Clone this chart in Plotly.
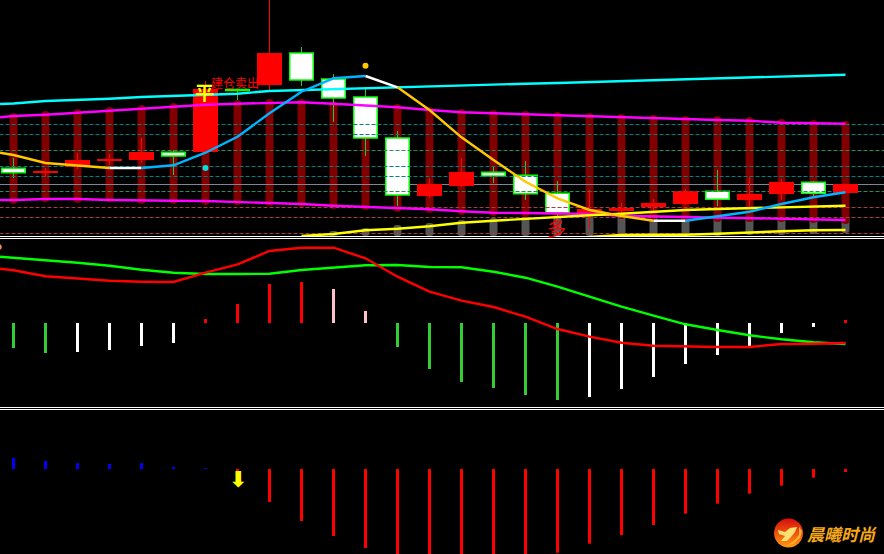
import plotly.graph_objects as go

# ---- data ----
idx = list(range(27))
lead_x = -0.42
open_ = [67.7,63.5,69.3,75,76,83.7,84,146.5,151,183,157,139,98,40,50,63.7,60.7,42.7,23,25,29,32,44.7,36,42,53.7,43]
close = [63.3,64.5,76,77,84,80,147,145.5,183,156,138,98,41,52,64,60,42.3,23,27,28,33,44.7,36.7,42,54,42.7,52]
high = [78,68,83,82,98,86,155,147,236,189,162,148,105,58,78,70,75,55,46,33,37,47,66,59,57,55,52]
low = [58,59,67,71,73,61,84,136,144,150,114,80,30,38,49,53,36,20,7,22,25,31,30,30,36,38,43]
band_top = [123,125,127,129,131,133,135,136,137,137,135,132,132,129,127,126,125,124,123,122,121,120,120,119,117,116,115]
band_bottom = [32,34,33,34,32,32,31,31,30,29,27,26,24,23,21,20,19,18,18,17,16,15,14,14,14,13,12]
gray_idx = list(range(10,27))
gray_top = [5,8,11,13,16,18,19,20,20,20,20,20,20,20,20,20,20]
gray_bottom = [0,0,0,0,0,0,0,0,0,0,0,0,0,1,1,2,3]
cyan_line = [132,132.5,135,136,137.3,139,140,141.7,142.3,145,146,146.7,148,148.7,150,151,152,152.3,153,154,155,156,157,158,159,160,161,161.3]
upper_env = [118.7,120,121.3,123.3,125.7,128,130,131.3,132.3,133.3,133.7,132.3,130.7,128.7,126,123.7,122.7,121.7,120.3,119.3,118.3,117.3,117,116,115.3,113.3,112.7,112.3]
lower_env = [36,36,37,37,36,36,35.3,35,34,33.3,32,30.3,29.3,27.7,26.7,24.7,23.3,23,22.3,22,20.3,19.7,19,18.3,17.7,17.3,16.3,16]
trend = [83.3,81,73,70.3,68,68,70.7,83.3,99.3,122.7,144.3,157.7,160,148.7,126,98.7,76,54.3,37.7,26,20,15.3,15.3,20,24.3,32,38.7,43.7]
yellow_a_idx = list(range(9,27))
yellow_a = [0,2,5.7,7.3,9.7,13.3,15.3,17.3,19,20.7,22.3,24.3,26,27,28,29,30,30.3]
yellow_b_idx = list(range(18,27))
yellow_b = [-1,1,1.3,1.3,2.3,3.7,4.7,5.7,6]
teal_levels = [111.5,101.5,69.5,59.5]
green_levels = [85.5,44.5]
brown_levels = [28.5,18.5,2.5]
slate_level = [51.5]

dif = [54.3,52.7,46.7,44.3,42.3,41.3,41,50.3,58.7,72,75.3,75.3,64.7,46.3,31.3,22.3,16,6.3,-6,-13.7,-19.7,-22.7,-23.7,-24,-24,-21,-20.7,-20]
dea = [66.3,65.3,62.3,60.3,57.3,53.3,50.3,49,49,49.3,53,55.7,57.7,58,56,55.7,51.3,45.3,36.3,26.3,16.3,7.3,-1.3,-7,-12.3,-16.3,-19.3,-21]
macd = [-25,-30,-29,-27,-23,-20,4,19,39,41,34,12,-24,-46,-59,-65,-72,-77,-74,-66,-54,-41,-32,-23,-10,-4,3]
momentum = [11,8,6,5,6,2,1,-3,-33,-52,-67,-79,-91,-96,-100,-98,-92,-83.7,-74.7,-66,-56,-44.7,-34.7,-24.7,-16.7,-8.7,-3]

PX_STEP = 32.0
PX_X0 = 13.5
W, H = 884, 554
LIME = '#00ff00'
RED = '#ff0000'
WICK_GREEN = '#22cc22'
LW = 2.4

def py(p):
    return 1 - p / H

fig = go.Figure()
xl = [lead_x] + idx
BW = 8 / PX_STEP

# layer 0: envelope columns, gray columns, slate level
fig.add_bar(x=gray_idx, base=gray_bottom, y=[t - b for t, b in zip(gray_top, gray_bottom)], width=BW,
            marker=dict(color='#555555', line_width=0, cornerradius=3), yaxis='y')
fig.add_bar(x=idx, base=band_bottom, y=[t - b for t, b in zip(band_top, band_bottom)], width=BW,
            marker=dict(color='#800000', line_width=0, cornerradius=4), yaxis='y')
fig.add_scatter(x=[-1, 28], y=slate_level * 2, mode='lines', line=dict(color='#778899', width=1), yaxis='y')

# layer 1: hollow-style candles, dashed levels
is_up = [c > o for o, c in zip(open_, close)]
dn = [i for i in idx if not is_up[i]]
up = [i for i in idx if is_up[i]]
fig.add_bar(x=dn, base=[low[i] for i in dn], y=[high[i] - low[i] for i in dn], width=1 / PX_STEP,
            marker=dict(color=WICK_GREEN, line_width=0), yaxis='y4')
fig.add_bar(x=dn, base=[close[i] for i in dn], y=[open_[i] - close[i] for i in dn], width=23.5 / PX_STEP,
            marker=dict(color='#ffffff', line=dict(color=LIME, width=1.5)), yaxis='y4')
for levels, col in ((teal_levels, '#008080'), (green_levels, '#2e8b57'), (brown_levels, '#a04040')):
    for lv in levels:
        fig.add_scatter(x=[-1, 28], y=[lv, lv], mode='lines', line=dict(color=col, width=1, dash='4px,2px'), yaxis='y4')

# layer 2: solid candles, lines
fig.add_bar(x=up, base=[low[i] for i in up], y=[high[i] - low[i] for i in up], width=1 / PX_STEP,
            marker=dict(color=RED, line_width=0), yaxis='y5')
fig.add_bar(x=up, base=[open_[i] for i in up], y=[close[i] - open_[i] for i in up], width=25 / PX_STEP,
            marker=dict(color=RED, line_width=0), yaxis='y5')
fig.add_scatter(x=xl, y=cyan_line, mode='lines', line=dict(color='#00ffff', width=LW), yaxis='y5')
fig.add_scatter(x=xl, y=upper_env, mode='lines', line=dict(color='#ff00ff', width=LW), yaxis='y5')
fig.add_scatter(x=xl, y=lower_env, mode='lines', line=dict(color='#ff00ff', width=LW), yaxis='y5')
fig.add_scatter(x=yellow_a_idx, y=yellow_a, mode='lines', line=dict(color='#ffff00', width=LW), yaxis='y5')
fig.add_scatter(x=yellow_b_idx, y=yellow_b, mode='lines', line=dict(color='#ffff00', width=LW), yaxis='y5')
# trend line coloured by run: gold falling, white turning, blue rising
runs = [(0, 4, '#ffc800'), (4, 5, '#ffffff'), (5, 12, '#00b4ff'), (12, 13, '#ffffff'),
        (13, 21, '#ffc800'), (21, 22, '#ffffff'), (22, 27, '#00b4ff')]
for a, b, col in runs:
    fig.add_scatter(x=xl[a:b + 1], y=trend[a:b + 1], mode='lines', line=dict(color=col, width=LW), yaxis='y5')
fig.add_scatter(x=[11], y=[170.3], mode='markers', marker=dict(color='#ffc800', size=6), yaxis='y5')
fig.add_scatter(x=[6], y=[68], mode='markers', marker=dict(color='#00e0e0', size=6), yaxis='y5')

# panel 2
def macd_color(i):
    prev = macd[i - 1] if i else 0
    if macd[i] >= 0:
        return RED if macd[i] >= prev else '#ffc0cb'
    return '#32cd32' if macd[i] <= prev else '#ffffff'
fig.add_bar(x=idx, y=macd, width=3 / PX_STEP, marker=dict(color=[macd_color(i) for i in idx], line_width=0), yaxis='y2')
fig.add_scatter(x=xl, y=dea, mode='lines', line=dict(color=LIME, width=LW), yaxis='y2')
fig.add_scatter(x=xl, y=dif, mode='lines', line=dict(color=RED, width=LW), yaxis='y2')
fig.add_scatter(x=[-0.46], y=[76], mode='markers', marker=dict(color='#ff8c40', size=6), yaxis='y2')

# panel 3
fig.add_bar(x=idx, y=momentum, width=3 / PX_STEP,
            marker=dict(color=['#0000ff' if v > 0 else RED for v in momentum], line_width=0), yaxis='y3')
fig.add_scatter(x=[24.22], y=[-64], mode='markers',
                marker=dict(color='#d80c0c', size=29, line_width=0, gradient=dict(type='vertical', color='#ff9a10')), yaxis='y3')

axis_off = dict(visible=False, fixedrange=True)
fig.update_layout(
    width=W, height=H, autosize=False,
    margin=dict(l=0, r=0, t=0, b=0, pad=0),
    paper_bgcolor='#000000', plot_bgcolor='#000000',
    showlegend=False, barmode='overlay',
    xaxis=dict(range=[-PX_X0 / PX_STEP, (W - PX_X0) / PX_STEP], **axis_off),
    yaxis=dict(domain=[py(236), 1], range=[0, 236], **axis_off),
    yaxis2=dict(domain=[py(407), py(239)], range=[-84, 84], **axis_off),
    yaxis3=dict(domain=[0, py(410)], range=[-85, 59], **axis_off),
    yaxis4=dict(overlaying='y', range=[0, 236], **axis_off),
    yaxis5=dict(overlaying='y', range=[0, 236], **axis_off),
)

for p in (236.5, 238.5, 407.5, 409.5):
    fig.add_shape(type='line', xref='paper', yref='paper', x0=0, x1=1, y0=py(p), y1=py(p),
                  line=dict(color='#ffffff', width=1))

# logo swoosh
def path(points):
    return 'M' + ' L'.join(f'{x / W:.5f} {py(y):.5f}' for x, y in points) + ' Z'
fig.add_shape(type='path', xref='paper', yref='paper', line_width=0, fillcolor='#ffe070',
              path=path([(778, 530), (785, 532), (790, 528), (797, 527), (795, 532), (791, 537), (787, 541), (781, 541), (785, 536), (779, 534)]))
fig.add_shape(type='path', xref='paper', yref='paper', line_width=0, fillcolor='#ffb030',
              path=path([(799, 527), (802, 531), (800, 538), (793, 544), (786, 546), (794, 541), (799, 535)]))

CJK = 'Noto Sans CJK SC'
def note(x, y, yref, text, size, color, **kw):
    fig.add_annotation(x=x, y=y, xref='x', yref=yref, text=text, showarrow=False,
                       font=dict(family=kw.pop('family', CJK), size=size, color=color, **kw),
                       xanchor='center', yanchor='middle')
note(5.97, 144.5, 'y', '平', 19, '#ffff00', weight='bold')
note(6.91, 154, 'y', '建仓卖出', 12, '#ff0000')
note(16.97, 9, 'y', '多', 19, '#ff0000')
note(7.0, -10, 'y3', '⬇', 22, '#ffff00', family='DejaVu Sans', weight='bold')
note(25.9, -64, 'y3', '晨曦时尚', 17, '#f5a818', style='italic', weight='bold')

fig.write_html('out.html', config={'displayModeBar': False},
               post_script="document.body.style.margin='0';document.body.style.background='#000';")
